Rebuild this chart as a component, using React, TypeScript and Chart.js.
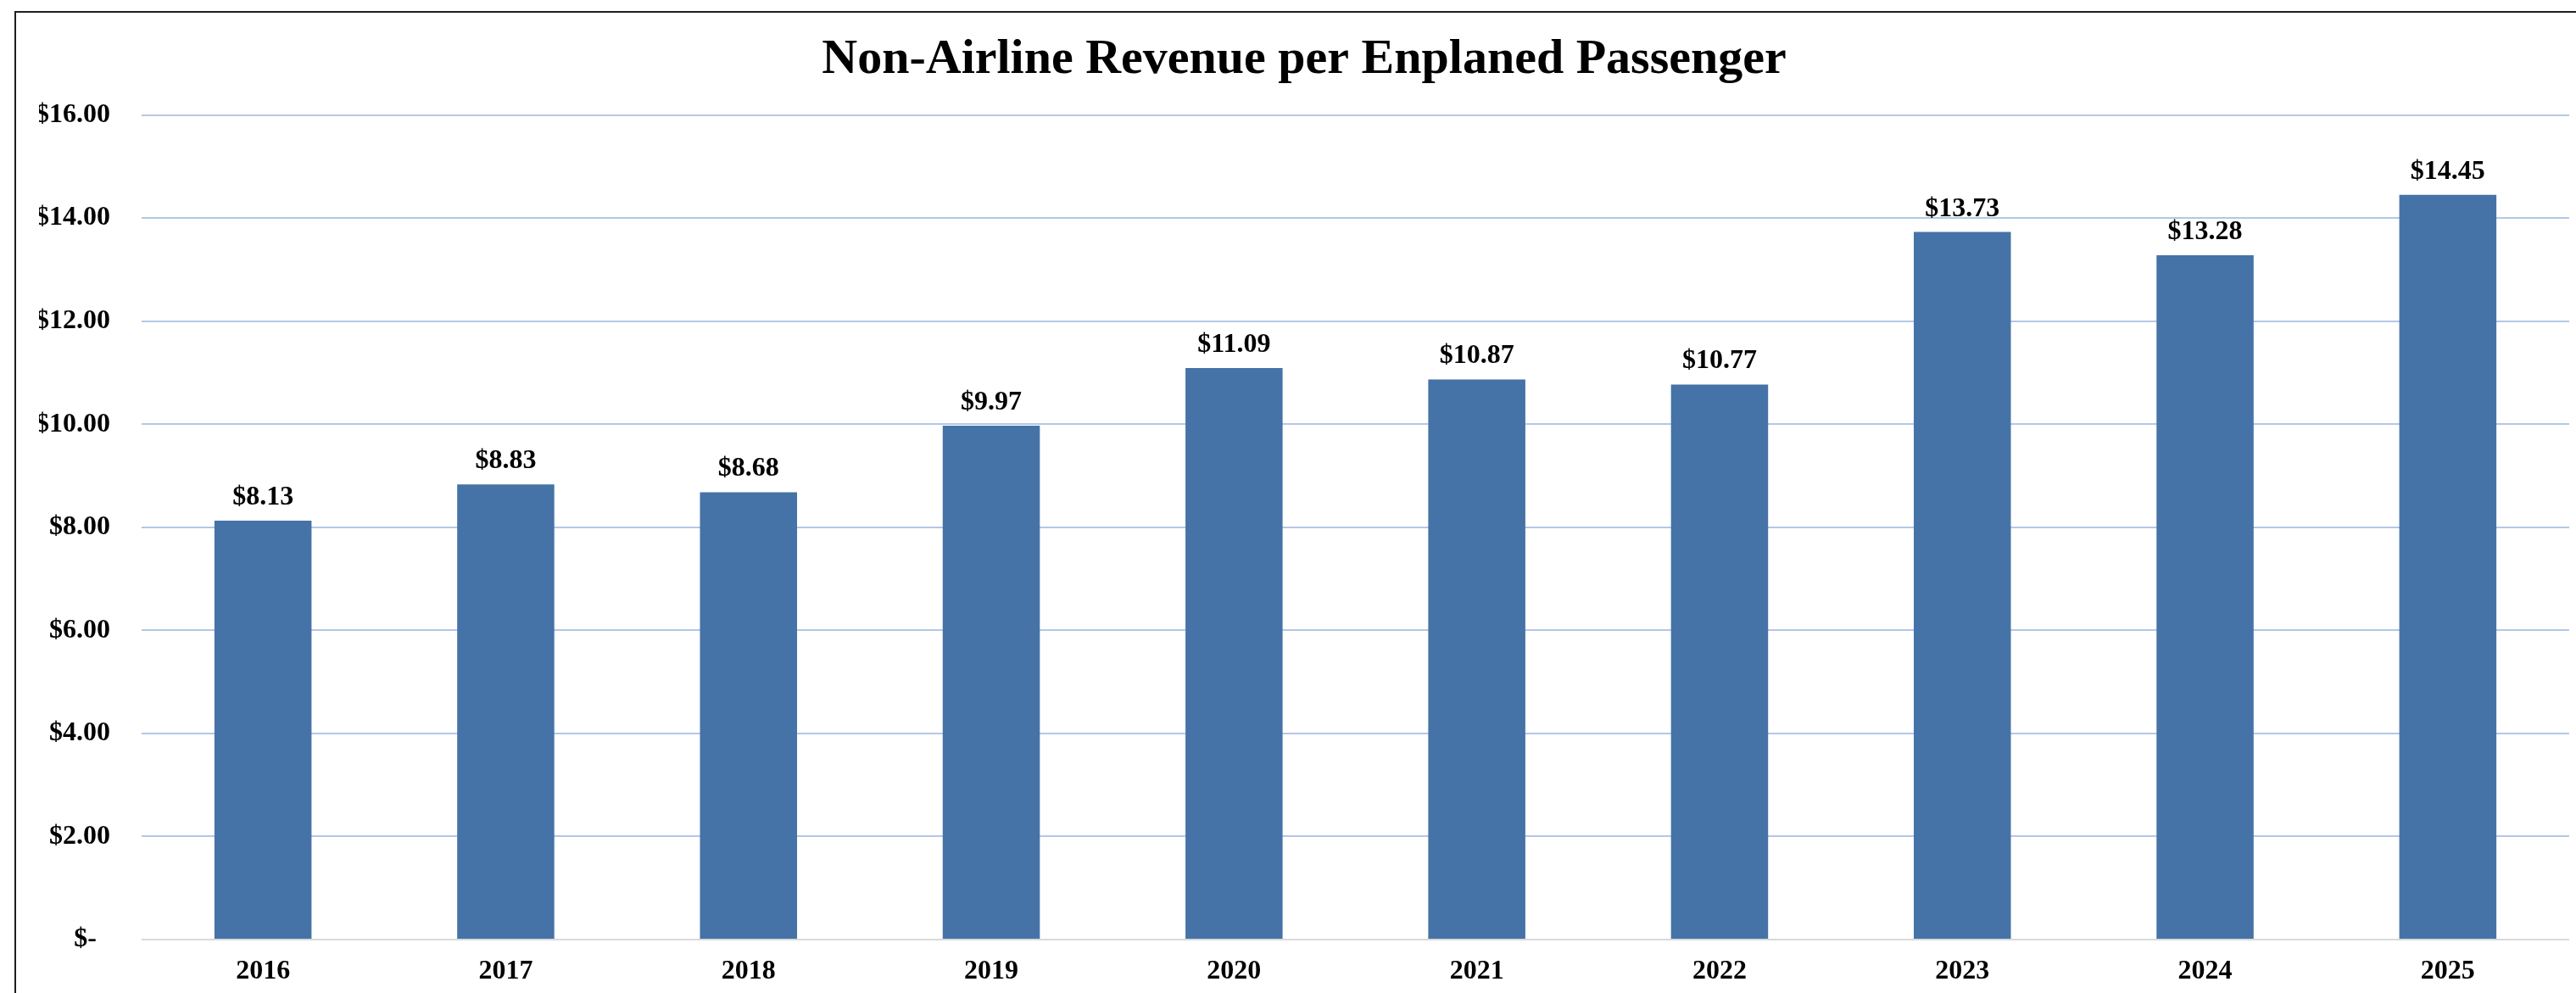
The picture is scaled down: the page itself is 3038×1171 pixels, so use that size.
import React, { useEffect, useRef } from 'react';
import { Chart, registerables } from 'chart.js';

Chart.register(...registerables);

const TITLE = 'Non-Airline Revenue per Enplaned Passenger';
const years = ['2016', '2017', '2018', '2019', '2020', '2021', '2022', '2023', '2024', '2025'];
const revenuePerPassenger = [8.13, 8.83, 8.68, 9.97, 11.09, 10.87, 10.77, 13.73, 13.28, 14.45];
const yMin = 0;
const yMax = 16;
const yStep = 2;

const FONT = '"Liberation Serif", "Times New Roman", Times, serif';
const BAR_COLOR = '#4573A7';
const GRID_COLOR = '#b4c7e7';
const ZERO_COLOR = '#d9d9d9';

const fmtMoney = (v: number) => (v === 0 ? '$-  ' : '$' + v.toFixed(2));

const frameAndLabels = {
  id: 'frameAndLabels',
  beforeDraw(chart: any) {
    const ctx = chart.ctx;
    ctx.save();
    ctx.fillStyle = '#1e1e1e';
    ctx.fillRect(17, 13, chart.width, 2);
    ctx.fillRect(17, 13, 2, chart.height);
    ctx.restore();
  },
  afterDatasetsDraw(chart: any) {
    const ctx = chart.ctx;
    const meta = chart.getDatasetMeta(0);
    const data = chart.data.datasets[0].data as number[];
    ctx.save();
    ctx.font = `bold 32px ${FONT}`;
    ctx.fillStyle = '#000';
    ctx.textAlign = 'center';
    ctx.textBaseline = 'alphabetic';
    meta.data.forEach((el: any, i: number) => {
      ctx.fillText(fmtMoney(data[i]), el.x, el.y - 19);
    });
    ctx.restore();
  },
};

export default function App() {
  const canvasRef = useRef<HTMLCanvasElement | null>(null);

  useEffect(() => {
    if (!canvasRef.current) return;
    const chart = new Chart(canvasRef.current, {
      type: 'bar',
      data: {
        labels: years,
        datasets: [
          {
            data: revenuePerPassenger,
            backgroundColor: BAR_COLOR,
            borderWidth: 0,
            barPercentage: 0.4,
            categoryPercentage: 1.0,
          },
        ],
      },
      options: {
        responsive: false,
        animation: false,
        devicePixelRatio: 1,
        layout: { padding: { left: 46, right: 8, top: 0, bottom: 0 } },
        plugins: {
          legend: { display: false },
          tooltip: { enabled: false },
          title: {
            display: true,
            text: TITLE,
            color: '#000',
            font: { family: FONT, size: 58, weight: 'bold', lineHeight: 1.2 },
            padding: { top: 36, bottom: 30 },
          },
        },
        scales: {
          x: {
            offset: true,
            grid: { display: false, drawTicks: false },
            border: { display: false },
            ticks: {
              color: '#000',
              padding: 19,
              font: { family: FONT, size: 32, weight: 'bold' },
            },
            afterFit: (scale: any) => {
              scale.height = 63;
            },
          },
          y: {
            min: yMin,
            max: yMax,
            border: { display: false },
            grid: {
              drawTicks: false,
              lineWidth: 2,
              color: (c: any) => (c.tick && c.tick.value === 0 ? ZERO_COLOR : GRID_COLOR),
            },
            ticks: {
              stepSize: yStep,
              color: '#000',
              padding: 37,
              font: { family: FONT, size: 32, weight: 'bold' },
              callback: (v: any) => fmtMoney(Number(v)),
            },
            afterFit: (scale: any) => {
              scale.width = 121;
            },
          },
        },
      },
      plugins: [frameAndLabels],
    });
    return () => chart.destroy();
  }, []);

  return (
    <div
      style={{
        position: 'absolute',
        left: 0,
        top: 0,
        width: 3038,
        height: 1171,
        overflow: 'hidden',
        background: '#fff',
      }}
    >
      <canvas ref={canvasRef} width={3038} height={1171} style={{ display: 'block' }} />
    </div>
  );
}
